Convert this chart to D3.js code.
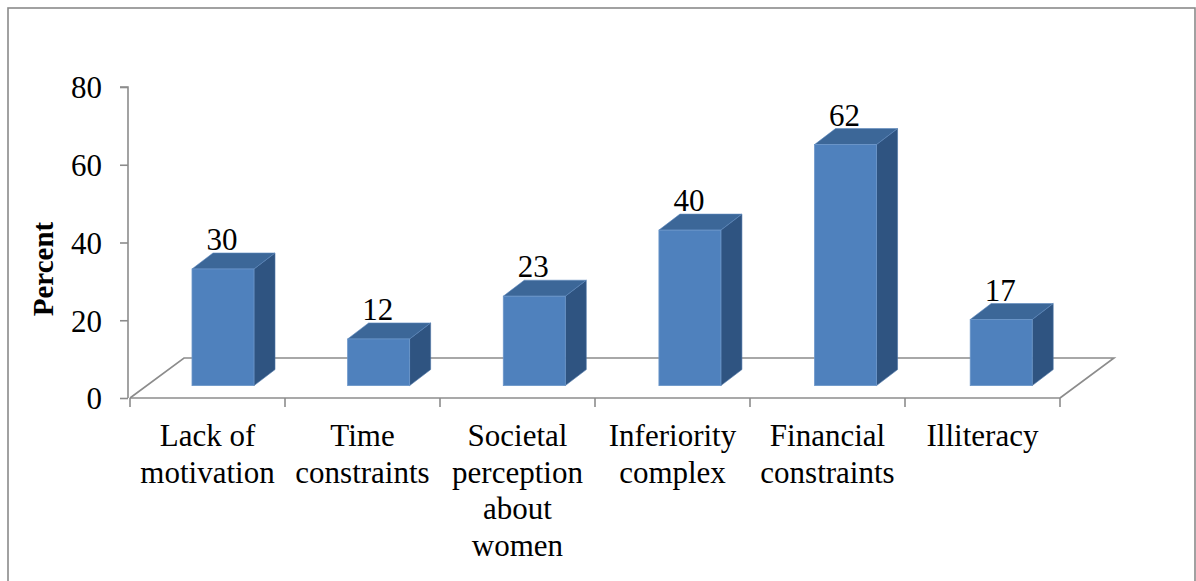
<!DOCTYPE html>
<html>
<head>
<meta charset="utf-8">
<script src="https://cdn.jsdelivr.net/npm/d3@7/dist/d3.min.js"></script>
<style>
  html, body { margin: 0; padding: 0; background: #fff; }
  svg { display: block; }
  text { font-family: "Liberation Serif", "Times New Roman", serif; fill: #000; }
</style>
</head>
<body>
<script>
// ---- data ----
const categories = [
  ["Lack of", "motivation"],
  ["Time", "constraints"],
  ["Societal", "perception", "about", "women"],
  ["Inferiority", "complex"],
  ["Financial", "constraints"],
  ["Illiteracy"]
];
const categoryKeys = ["Lack of motivation", "Time constraints", "Societal perception about women",
  "Inferiority complex", "Financial constraints", "Illiteracy"];
const values = [30, 12, 23, 40, 62, 17];
const yTicks = [0, 20, 40, 60, 80];
const yTitle = "Percent";

// ---- layout ----
const W = 1196, H = 581;
const svg = d3.select("body").append("svg").attr("width", W).attr("height", H);

// outer frame (bottom edge falls outside the picture)
svg.append("rect").attr("x", 8).attr("y", 8).attr("width", 1187).attr("height", 600)
  .attr("fill", "#fff").attr("stroke", "#8a8a8a").attr("stroke-width", 1.6);

const x0 = 130, x1 = 1060, yBase = 398, yTop = 87;
const floorDX = 54, floorDY = -40;          // full depth offset of the floor
const barDepthStart = 0.31;                  // bar front sits at this fraction of floor depth
const barDX = 21, barDY = -16;               // bar depth offset
const barW = 62;

const y = d3.scaleLinear().domain([0, 80]).range([yBase, yTop]);
const x = d3.scaleBand().domain(categoryKeys).range([x0, x1]).padding(0);
// centres of bar front faces (on the plane at barDepthStart)
const xBar = d3.scalePoint().domain(categoryKeys).range([223, 1001.2]);
const barBaseShift = barDepthStart * floorDY; // vertical shift of the bar plane

const gray = "#8c8c8c";

// floor
const floor = d3.path();
floor.moveTo(x0, yBase);
floor.lineTo(x0 + floorDX, yBase + floorDY);
floor.lineTo(x1 + floorDX, yBase + floorDY);
floor.lineTo(x1, yBase);
svg.append("path").attr("d", floor.toString()).attr("fill", "none")
  .attr("stroke", gray).attr("stroke-width", 1.6);

// y axis
const yAxis = d3.axisLeft(y).tickValues(yTicks).tickSize(8).tickPadding(18);
const gy = svg.append("g").attr("transform", `translate(${x0 - 2},0)`).call(yAxis);
gy.select(".domain").attr("stroke", gray).attr("stroke-width", 1.6).attr("d", `M-8,${yTop}H0V${yBase}`);
gy.selectAll(".tick line").attr("stroke", gray).attr("stroke-width", 1.6);
gy.selectAll(".tick text").style("font-family", "Liberation Serif, serif").style("font-size", "31px")
  .attr("fill", "#000").attr("dy", "0.35em");

// x axis
const xAxis = d3.axisBottom(x).tickValues([]).tickSize(0);
const gx = svg.append("g").attr("transform", `translate(0,${yBase})`).call(xAxis);
gx.select(".domain").attr("stroke", gray).attr("stroke-width", 1.6).attr("d", `M${x0},0H${x1}`);
const tickXs = categoryKeys.map(c => x(c)).concat([x1]);
gx.selectAll(".xt").data(tickXs).enter().append("line").attr("class", "xt")
  .attr("x1", d => d).attr("x2", d => d).attr("y1", 0).attr("y2", 9)
  .attr("stroke", gray).attr("stroke-width", 1.6);

// category labels
const lab = svg.append("g");
categories.forEach((lines, i) => {
  const cx = x(categoryKeys[i]) + x.bandwidth() / 2;
  const t = lab.append("text").attr("text-anchor", "middle").style("font-size", "31px");
  lines.forEach((ln, j) => {
    t.append("tspan").attr("x", cx).attr("y", 446 + j * 36.5).text(ln);
  });
});

// y title
svg.append("text").attr("transform", `translate(53,269) rotate(-90)`)
  .attr("text-anchor", "middle").style("font-size", "29px").style("font-weight", "bold").text(yTitle);

// bars
const frontColor = "#4F81BD", topColor = "#3C6798", sideColor = "#2F5481";
const bars = svg.append("g");
values.forEach((v, i) => {
  const cx = xBar(categoryKeys[i]);
  const l = cx - barW / 2, r = cx + barW / 2;
  const b = y(0) + barBaseShift, t = y(v) + barBaseShift;
  // side face
  bars.append("path").attr("d",
    `M${r},${b}L${r + barDX},${b + barDY}L${r + barDX},${t + barDY}L${r},${t}Z`)
    .attr("fill", sideColor).attr("stroke", "#4a72a5").attr("stroke-width", 0.6);
  // top face
  bars.append("path").attr("d",
    `M${l},${t}L${l + barDX},${t + barDY}L${r + barDX},${t + barDY}L${r},${t}Z`)
    .attr("fill", topColor).attr("stroke", "#5c88bd").attr("stroke-width", 0.6);
  // front face
  bars.append("rect").attr("x", l).attr("y", t).attr("width", barW).attr("height", b - t)
    .attr("fill", frontColor).attr("stroke", "#6b96c9").attr("stroke-width", 0.8);
  // data label
  bars.append("text").attr("x", cx - 1).attr("y", t + barDY - 3)
    .attr("text-anchor", "middle").style("font-size", "31px").text(v);
});
</script>
</body>
</html>
